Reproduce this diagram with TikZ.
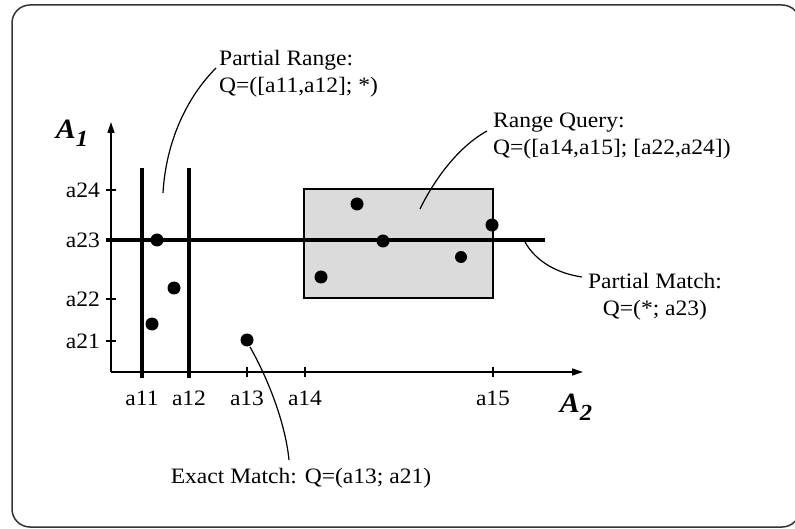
\documentclass[tikz,border=0pt]{standalone}
\usepackage{fontspec}
\setmainfont{Liberation Serif}[FakeStretch=1.07]
\usetikzlibrary{arrows.meta}

\begin{document}
\begin{tikzpicture}[
  x=1pt, y=-1pt,
  frame/.style={rounded corners=18pt, line width=1.5pt, draw=black!80},
  axis/.style={line width=1.4pt, -{Triangle[length=11pt, width=7pt]}},
  tickmark/.style={line width=1.2pt},
  cut/.style={line width=3.2pt},
  region/.style={line width=2pt, fill=black!14},
  dot/.style={circle, fill=black, inner sep=0pt, minimum size=13pt},
  lbl/.style={font=\fontsize{22}{26}\selectfont, inner sep=1pt},
  axlbl/.style={font=\fontsize{28}{30}\selectfont\bfseries\itshape, inner sep=0pt},
  note/.style={font=\fontsize{22}{27}\selectfont, align=left, inner sep=0pt},
  lead/.style={line width=1.2pt},
]
\useasboundingbox (0,0) rectangle (795,529);

% Frame
\draw[frame] (12,5) rectangle (800,527);

% Range query box
\draw[region] (304,189) rectangle (493,298);

% Axes
\coordinate (O)    at (111,372);
\coordinate (xend) at (583,372);
\coordinate (yend) at (111,122);
\draw[axis] (O) -- (xend);
\draw[axis] (O) -- (yend);
\node[axlbl] (A1) at (72,133) {A\raisebox{-0.3em}{\fontsize{23}{23}\selectfont 1}};
\node[axlbl] (A2) at (576,407) {A\raisebox{-0.3em}{\fontsize{23}{23}\selectfont 2}};

% Ticks
\foreach \x/\name in {142/a11, 189/a12, 247/a13, 305/a14, 493/a15} {
  \draw[tickmark] (\x,367) -- (\x,377);
  \node[lbl] (\name) at (\x,398) {\name};
}
\foreach \y/\name in {190/a24, 240/a23, 299/a22, 341/a21} {
  \draw[tickmark] (106,\y) -- (116,\y);
  \node[lbl, anchor=east] (\name) at (101,\y) {\name};
}

% Partial range and partial match lines
\draw[cut] (142,168) -- (142,378);
\draw[cut] (189,168) -- (189,378);
\draw[cut] (106,240) -- (545,240);

% Data points
\node[dot] (p1) at (157,240) {};
\node[dot] (p2) at (174,288) {};
\node[dot] (p3) at (152,324) {};
\node[dot] (p4) at (247,340) {};
\node[dot] (p5) at (357,204) {};
\node[dot] (p6) at (383,241) {};
\node[dot] (p7) at (492,225) {};
\node[dot, minimum size=12pt] (p8) at (461,257) {};
\node[dot] (p9) at (321,277) {};

% Notes
\node[note, anchor=north west] (prq) at (219,50) {Partial Range:\\Q=([a11,a12]; *)};
\node[note, anchor=north west] (rq)  at (493,113) {Range Query:\\Q=([a14,a15]; [a22,a24])};
\node[note, anchor=north, align=center] (pmq) at (655,273) {Partial Match:\\Q=(*; a23)};
\node[note, anchor=north] (emq) at (301,468) {Exact Match: Q=(a13; a21)};

% Leaders
\coordinate (prs) at (163,193);
\coordinate (pre) at (216,68);
\coordinate (rqs) at (420,209);
\coordinate (rqe) at (487,131);
\coordinate (pms) at (525,242);
\coordinate (pme) at (582,277);
\coordinate (ems) at (250,347);
\coordinate (eme) at (289,460);
\draw[lead] (prs) .. controls (166,140) and (188,96) .. (pre);
\draw[lead] (rqs) .. controls (432,184) and (456,148) .. (rqe);
\draw[lead] (pms) .. controls (535,260) and (555,273) .. (pme);
\draw[lead] (ems) .. controls (266,375) and (285,420) .. (eme);

\end{tikzpicture}
\end{document}
